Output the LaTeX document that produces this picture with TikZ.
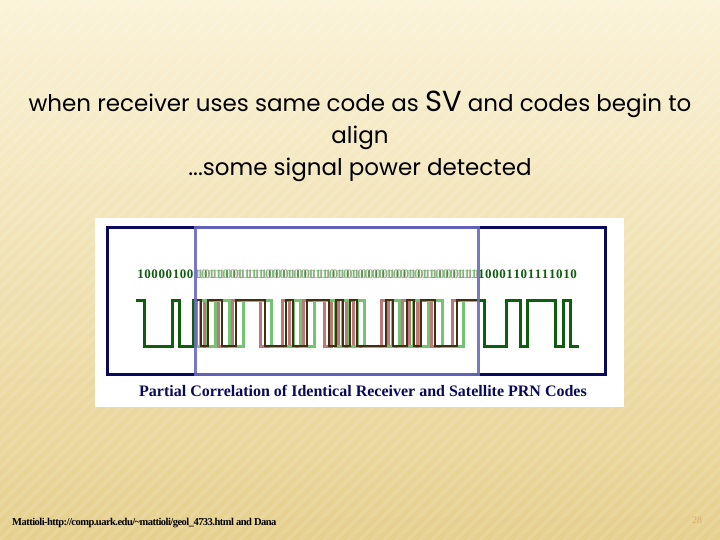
\documentclass[tikz,border=0pt]{standalone}
\usepackage{fontspec}
\setmainfont{Liberation Serif}
\newfontfamily\titlefont{Poppins}
\definecolor{bgtop}{HTML}{FBF3D8}
\definecolor{bgbot}{HTML}{E6D08E}
\definecolor{navy}{HTML}{0A0A5C}
\definecolor{boxblue}{HTML}{6A6AC0}
\definecolor{dgreen}{HTML}{0E5E0E}
\definecolor{lgreen}{HTML}{72C472}
\definecolor{dbrown}{HTML}{3E3010}
\definecolor{rred}{HTML}{B86A6A}
\newcommand{\bitlist}{1,0,0,0,0,1,0,0,1,0,1,1,0,0,1,1,1,1,0,0,0,1,0,0,1,1,1,0,1,0,1,0,0,0,0,1,0,0,1,0,1,1,0,0,0,1,1,1,1,0,0,0,1,1,0,1,1,1,1,0,1,0}
\newcommand{\wavepath}[2]{%
  \foreach \b [count=\i, remember=\b as \pb (initially 1)] in \bitlist {
    \pgfmathsetmacro{\xa}{137+(\i-1)*7.1+#2}
    \pgfmathsetmacro{\xb}{137+\i*7.1+#2}
    \draw[line width=3pt,line cap=rect,#1] (\xa,346-46*\pb) -- (\xa,346-46*\b) -- (\xb,346-46*\b);
  }}
\begin{document}
\begin{tikzpicture}[x=1pt,y=-1pt]
\useasboundingbox (0,0) rectangle (720,540);
\shade[top color=bgtop,bottom color=bgbot] (0,0) rectangle (720,540);
\foreach \k in {0,12,...,1300}
  \draw[white,opacity=0.12,line width=3pt] (\k-540,540) -- (\k,0);
\node[font=\titlefont\fontsize{23}{32}\selectfont,align=center,text=black] (title) at (360,136)
 {when receiver uses same code as {\fontsize{29}{32}\selectfont SV} and codes begin to\\align\\...some signal power detected};
\node[fill=white,draw=none,minimum width=529pt,minimum height=189pt,inner sep=0pt] (img) at (359.5,312.5) {};
\draw[navy,line width=3pt] (107,228) rectangle (605,374);
\begin{scope}
 \clip (100,220) rectangle (195,380);
 \wavepath{dgreen}{0}
\end{scope}
\begin{scope}
 \clip (478,220) rectangle (615,380);
 \wavepath{dgreen}{0}
\end{scope}
\begin{scope}
 \clip (195,220) rectangle (478,380);
 \wavepath{rred,opacity=0.9}{-4}
 \wavepath{lgreen}{7}
 \wavepath{dbrown,line width=2pt}{0}
\end{scope}
\foreach \b [count=\i] in \bitlist {
  \pgfmathsetmacro{\xc}{140.5+(\i-1)*7.1}
  \pgfmathparse{(\xc>195 && \xc<478) ? 1 : 0}
  \ifnum\pgfmathresult=1
    \node[font=\bfseries\fontsize{13}{13}\selectfont,text=lgreen,inner sep=0pt] (t\i) at (\xc,274) {\b};
    \node[font=\bfseries\fontsize{13}{13}\selectfont,text=dbrown,opacity=0.45,inner sep=0pt] (u\i) at (\xc+3,274) {\b};
  \else
    \node[font=\bfseries\fontsize{13}{13}\selectfont,text=dgreen,inner sep=0pt] (t\i) at (\xc,274) {\b};
  \fi
}
\draw[boxblue,opacity=0.9,line width=3pt] (195,228) rectangle (478,374);
\node[font=\bfseries\fontsize{16}{18}\selectfont,text=navy] (cap) at (363,391) {Partial Correlation of Identical Receiver and Satellite PRN Codes};
\node[anchor=west,font=\bfseries\fontsize{10.5}{11}\selectfont\addfontfeatures{LetterSpace=-5},inner sep=0pt] (foot) at (12,523) {Mattioli-http://comp.uark.edu/\textasciitilde mattioli/geol\_4733.html and Dana};
\node[font=\fontsize{10}{10}\selectfont,text=bgbot!60!brown,inner sep=0pt] (pg) at (697,520) {28};
\end{tikzpicture}
\end{document}
